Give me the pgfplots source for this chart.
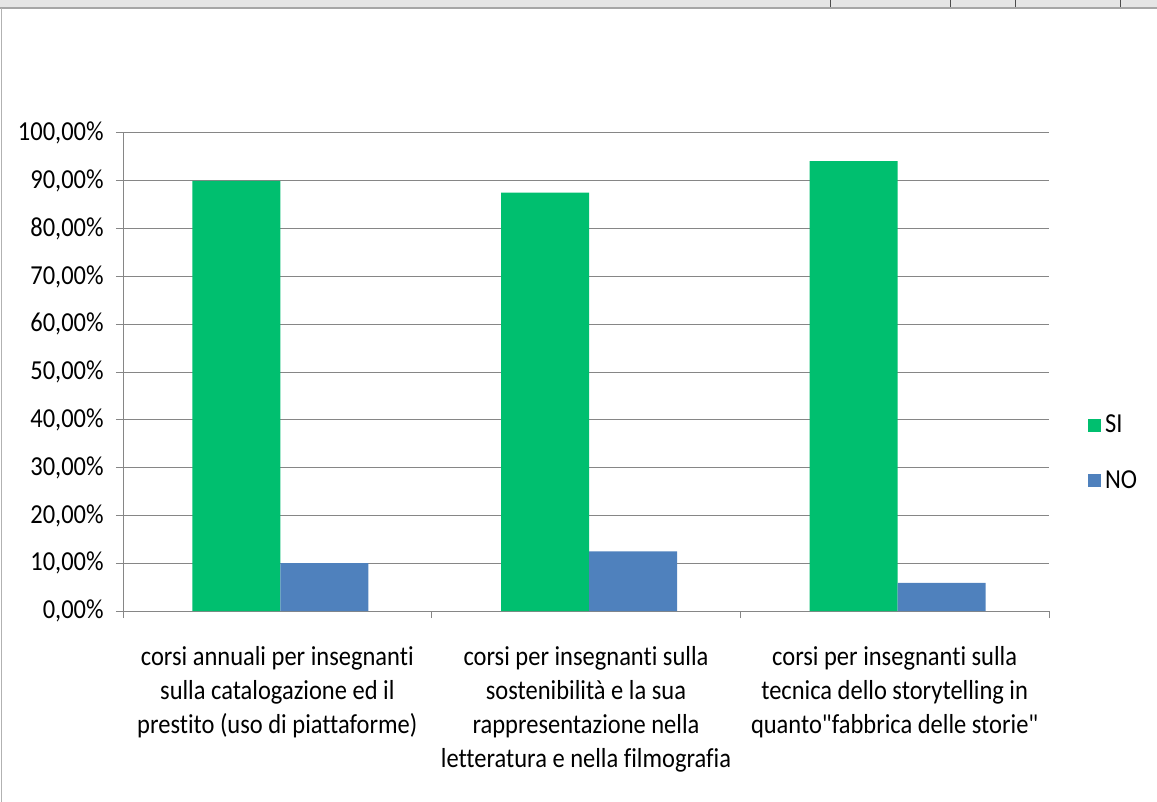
\documentclass[border=0pt]{standalone}
\usepackage{fontspec}
\setmainfont{Carlito}[Ligatures={NoCommon,TeXOff}]
\usepackage{graphicx}
\usepackage{pgfplots}
\pgfplotsset{compat=1.18}
\definecolor{siGreen}{RGB}{0,191,111}
\definecolor{noBlue}{RGB}{79,129,189}
\definecolor{gridGray}{RGB}{134,134,134}
% the screenshot's text is a little taller than wide
\newcommand{\tall}[1]{\scalebox{1}[1.12]{#1}}
\newcommand{\xl}[1]{\tall{\setlength{\tabcolsep}{0pt}\begin{tabular}{c}#1\end{tabular}}}
\begin{document}
\fontsize{24.5bp}{30.5bp}\selectfont
\begin{tikzpicture}
\begin{axis}[
  scale only axis,
  width=926bp, height=478bp,
  ybar=0pt, bar width=88bp,
  xmin=-0.5, xmax=2.5,
  ymin=0, ymax=100,
  axis x line*=bottom, axis y line*=left,
  axis line style={gridGray, line width=1pt, -},
  xtick={0,1,2},
  xticklabels={
    {\xl{corsi annuali per insegnanti\\sulla catalogazione ed il\\prestito (uso di piattaforme)}},
    {\xl{corsi per insegnanti sulla\\sostenibilità e la sua\\rappresentazione nella\\letteratura e nella filmografia}},
    {\xl{corsi per insegnanti sulla\\tecnica dello storytelling in\\quanto"fabbrica delle storie"}}},
  xticklabel style={anchor=north, yshift=-15bp, text=black},
  major x tick style={draw=none},
  minor xtick={-0.5,0.5,1.5,2.5},
  minor tick length=7bp,
  minor x tick style={gridGray, line width=1pt},
  ytick={0,10,...,100},
  major tick length=7bp,
  tick align=outside,
  ytick style={gridGray, line width=1pt},
  ymajorgrids,
  grid style={gridGray, line width=1pt},
  yticklabel={\tall{\pgfmathprintnumber[fixed, fixed zerofill, precision=2, use comma]{\tick}\%}},
  yticklabel style={anchor=east, xshift=-4bp, text=black},
  /pgf/number format/assume math mode=true,
  legend style={at={(rel axis cs:1.042,0.33)}, anchor=west, draw=none, fill=none,
    row sep=30bp, inner sep=0pt},
  legend cell align=left,
  legend image code/.code={\fill[#1] (0bp,-6bp) rectangle (13bp,7bp);},
]
\addplot[fill=siGreen, draw=none, bar shift=-41bp] coordinates {(0,90.0) (1,87.5) (2,94.12)};
\addplot[fill=noBlue, draw=none, bar shift=47bp] coordinates {(0,10.0) (1,12.5) (2,5.88)};
\legend{\hspace{2bp}\tall{SI},\hspace{2bp}\tall{NO}}
\end{axis}
% page frame as in the source screenshot
\useasboundingbox (-123bp,-191bp) rectangle (1034bp,611bp);
\fill[gray!20] (-123bp,602bp) rectangle (1034bp,611bp);
\draw[gray!70, line width=1.5pt] (-123bp,603bp) -- (1034bp,603bp);
\draw[gray!60, line width=1pt] (-122bp,-191bp) -- (-122bp,603bp);
\foreach \x in {830,950,1015,1120} \draw[black!70, line width=1pt] (\x bp-123bp,604bp) -- (\x bp-123bp,611bp);
\end{tikzpicture}
\end{document}
